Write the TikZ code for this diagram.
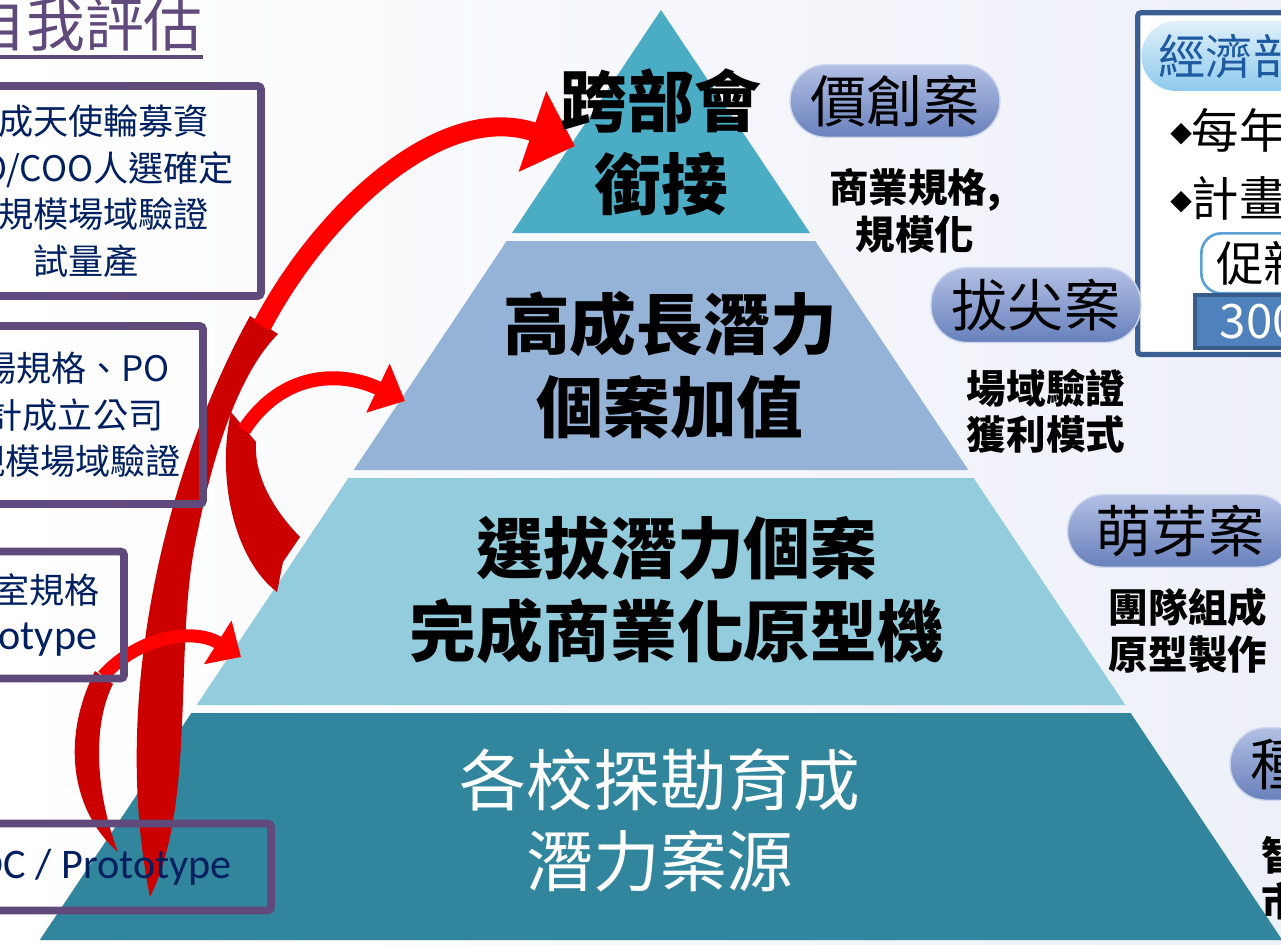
\documentclass[tikz,border=0pt]{standalone}
\usepackage{fontspec}
\usepackage{tikz}
\usetikzlibrary{arrows.meta}
\setmainfont{Carlito}
\newfontfamily\cjk{Noto Sans CJK TC}
\newfontfamily\symb{DejaVu Sans}
\definecolor{apexteal}{RGB}{75,172,198}
\definecolor{growthblue}{RGB}{149,179,215}
\definecolor{selectteal}{RGB}{147,205,221}
\definecolor{sourceteal}{RGB}{49,133,156}
\definecolor{boxpurple}{RGB}{96,74,123}
\definecolor{boxnavy}{RGB}{0,32,96}
\definecolor{headred}{RGB}{255,0,0}
\definecolor{tailred}{RGB}{204,0,0}
\definecolor{pilltop}{RGB}{178,192,228}
\definecolor{pillbottom}{RGB}{104,128,188}
\definecolor{pillrim}{RGB}{205,214,236}
\definecolor{ecoframe}{RGB}{60,95,145}
\definecolor{ecotop}{RGB}{224,240,251}
\definecolor{ecobottom}{RGB}{142,202,237}
\definecolor{ecotext}{RGB}{30,90,160}
\definecolor{promoline}{RGB}{91,160,215}
\definecolor{fundfill}{RGB}{79,129,189}
\definecolor{fundline}{RGB}{56,93,138}
\definecolor{bgright}{RGB}{238,240,249}
\tikzset{
  tiertext/.style={align=center, font=\cjk\bfseries\fontsize{38pt}{47pt}\selectfont},
  casepill/.style={minimum width=4.2cm, minimum height=1.45cm, rounded corners=0.72cm,
    top color=pilltop, bottom color=pillbottom, draw=pillrim, line width=0.8pt,
    font=\cjk\fontsize{32pt}{32pt}\selectfont},
  casenote/.style={align=center, font=\cjk\bfseries\fontsize{22.5pt}{26.5pt}\selectfont},
  stagebox/.style={draw=boxpurple, line width=4.5pt, rounded corners=2pt, align=center,
    text=boxnavy, font=\cjk\fontsize{20pt}{26.5pt}\selectfont},
  ecoline/.style={anchor=west, inner sep=0pt, font=\cjk\fontsize{27pt}{27pt}\selectfont},
}
\newcommand{\ecomark}{\raisebox{4pt}{\symb\fontsize{16pt}{16pt}\selectfont ◆}}

\begin{document}
\begin{tikzpicture}[x=0.02cm, y=-0.02cm]
  \useasboundingbox (0,0) rectangle (1281,944);
  \clip (0,0) rectangle (1281,944);
  \shade[left color=white, right color=bgright] (0,0) rectangle (1281,944);
  \fill[apexteal] (661,10) -- (810,233) -- (512,233) -- cycle;
  \fill[growthblue] (506.7,241) -- (815.3,241) -- (968.3,470) -- (353.7,470) -- cycle;
  \fill[selectteal] (348.4,478) -- (973.6,478) -- (1125.3,705) -- (196.7,705) -- cycle;
  \fill[sourceteal] (191.4,713) -- (1130.6,713) -- (1282.2,940) -- (39.8,940) -- cycle;

  \coordinate (riseA) at (262,326);
  \coordinate (tipA) at (575,146);
  \coordinate (riseB) at (244,430);
  \coordinate (tipB) at (405,401);
  \coordinate (riseC) at (103,676);
  \coordinate (tipC) at (241,657);
  \fill[tailred] (250,316) .. controls (165,470) and (110,700) .. (150,897)
    .. controls (198,800) and (172,640) .. (198,530)
    .. controls (214,450) and (240,372) .. (278,334) -- cycle;
  \fill[tailred] (231,412) .. controls (216,480) and (235,560) .. (277,592) -- (283,562)
    -- (300,537) .. controls (272,508) and (254,475) .. (256,442) -- cycle;
  \fill[tailred] (95,671) .. controls (60,740) and (72,812) .. (118,852)
    .. controls (98,800) and (90,730) .. (113,684) -- cycle;
  \draw[headred, line width=0.38cm, -{Triangle[width=1.65cm,length=0.9cm]}]
    (riseA) .. controls (320,215) and (440,100) .. (tipA);
  \draw[headred, line width=0.28cm, -{Triangle[width=1.05cm,length=0.6cm]}]
    (riseB) .. controls (282,372) and (340,370) .. (tipB);
  \draw[headred, line width=0.26cm, -{Triangle[width=1cm,length=0.55cm]}]
    (riseC) .. controls (140,635) and (195,628) .. (tipC);

  \node[tiertext] (crossTier) at (661,142) {跨部會\\銜接};
  \node[tiertext] (growthTier) at (670,365) {高成長潛力\\個案加值};
  \node[tiertext] (selectTier) at (677,590) {選拔潛力個案\\完成商業化原型機};
  \node[tiertext, text=white, font=\cjk\fontsize{38pt}{46pt}\selectfont] (sourceTier) at (660,820) {各校探勘育成\\潛力案源};

  \node[anchor=west, inner sep=0pt, text=boxpurple, font=\cjk\fontsize{33.5pt}{33.5pt}\selectfont] (selfCheck) at (-33,24) {自我評估};
  \draw[boxpurple, line width=2pt] ([yshift=-3pt]selfCheck.south west) -- ([yshift=-3pt]selfCheck.south east);
  \node[stagebox, minimum width=7cm, minimum height=4.2cm] (pilotBox) at (86,191) {完成天使輪募資\\CEO/COO人選確定\\大規模場域驗證\\試量產};
  \node[stagebox, minimum width=5.8cm, minimum height=3.56cm] (marketBox) at (58,415) {市場規格、PO\\預計成立公司\\小規模場域驗證};
  \node[stagebox, minimum width=4.48cm, minimum height=2.54cm] (labBox) at (12,615) {實驗室規格\\{\rmfamily\fontsize{24pt}{26.5pt}\selectfont Prototype}};
  \node[stagebox, minimum width=7.12cm, minimum height=1.74cm, font=\rmfamily\fontsize{24pt}{26.5pt}\selectfont] (pocBox) at (93,867) {POC / Prototype};

  \node[draw=ecoframe, line width=3pt, fill=white, rounded corners=2pt, minimum width=3.7cm, minimum height=6.84cm, anchor=north west] (ecoFrame) at (1135,10) {};
  \node[anchor=west, minimum height=1.4cm, rounded corners=0.7cm, top color=ecotop, bottom color=ecobottom, text=ecotext, text width=3.3cm, inner xsep=0.34cm, align=left, font=\cjk\fontsize{27pt}{27pt}\selectfont] (ecoPill) at (1141,56) {經濟部};
  \node[ecoline] (yearLine) at (1170,130) {\ecomark 每年};
  \node[ecoline] (planLine) at (1170,198) {\ecomark 計畫};
  \node[anchor=north west, draw=promoline, line width=1.5pt, fill=white, rounded corners=0.4cm, minimum height=1.2cm, text width=2.4cm, inner xsep=0.3cm, align=left, font=\cjk\fontsize{27pt}{27pt}\selectfont] (promoBox) at (1200,232) {促新};
  \node[anchor=north west, draw=fundline, line width=2pt, fill=fundfill, text=white, minimum height=1.06cm, text width=2.5cm, inner xsep=0.5cm, align=left, font=\cjk\fontsize{27pt}{27pt}\selectfont] (fundBar) at (1193,293) {300};

  \node[casepill] (valuePill) at (895,101) {價創案};
  \node[casepill, minimum height=1.5cm] (topPill) at (1036,305) {拔尖案};
  \node[casepill, minimum width=4.5cm] (sproutPill) at (1180,531) {萌芽案};
  \node[casepill] (seedPill) at (1335,764) {種子案};
  \node[casenote] (valueNote) at (915,211) {商業規格,\\規模化};
  \node[casenote] (topNote) at (1046,411) {場域驗證\\獲利模式};
  \node[casenote] (sproutNote) at (1188,631) {團隊組成\\原型製作};
  \node[casenote, anchor=west, align=left, inner sep=0pt] (seedNote) at (1261,878) {智\\市};
\end{tikzpicture}
\end{document}
